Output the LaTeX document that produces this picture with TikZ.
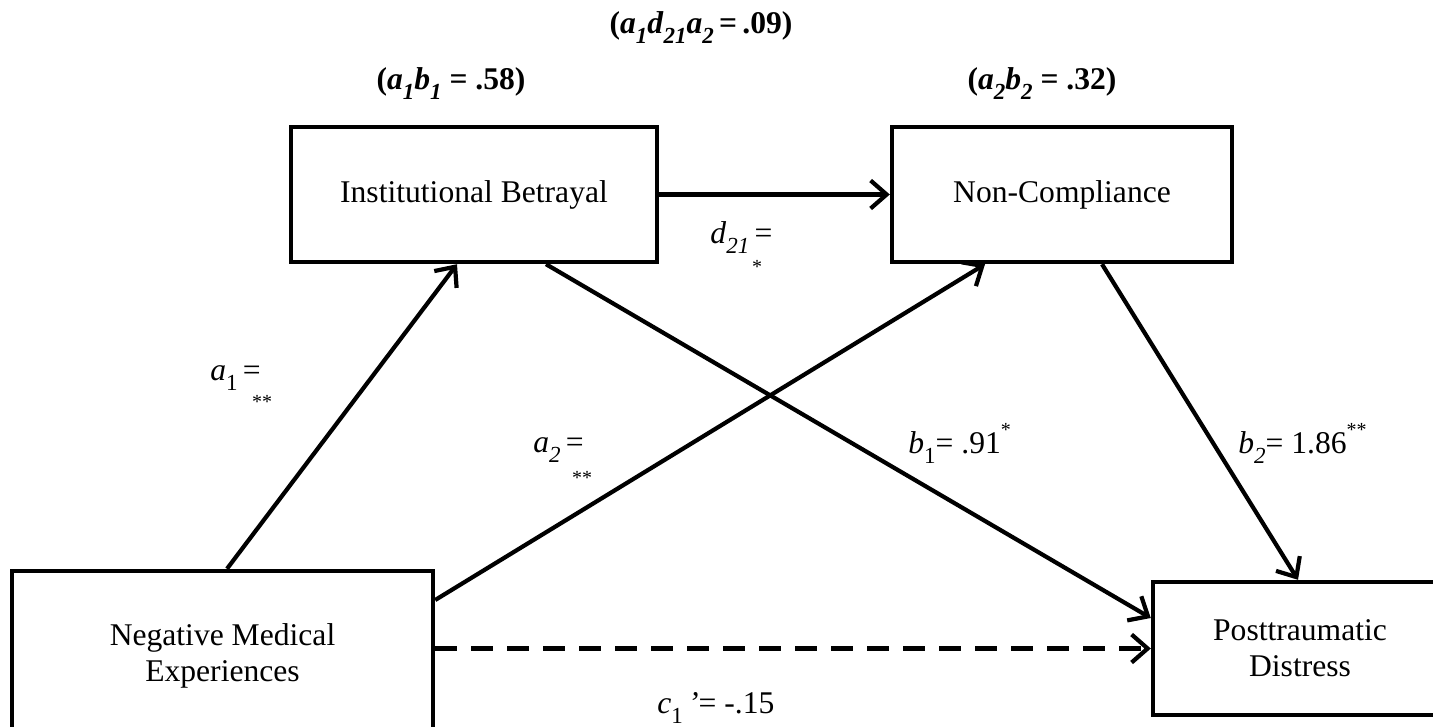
\documentclass[tikz,border=0pt]{standalone}
\usepackage{fontspec}
\setmainfont{Liberation Serif}
\usepackage{tikz}
\usetikzlibrary{
  arrows.meta, positioning, shadows
}
\tikzset{
  varbox/.style={
    draw, fill=white, line width=2.2pt,
    minimum height=67.5pt, align=center, inner sep=4pt,
    drop shadow={shadow xshift=1.2pt, shadow yshift=-1.2pt, opacity=0.18}
  },
  pathlab/.style={anchor=base west, inner sep=0pt},
  starlab/.style={inner sep=0pt, font=\fontsize{10}{12}\selectfont},
  effectlab/.style={inner sep=0pt, font=\fontsize{15.8}{18}\selectfont\bfseries},
  patharr/.style={
    -{Straight Barb[length=8pt,width=14pt,line width=2.1pt]},
    line width=2.1pt
  },
  directarr/.style={
    patharr, dashed, dash pattern=on 11pt off 7pt
  }
}
\newcommand{\sub}[1]{\raisebox{-5pt}{\fontsize{11.5}{12}\selectfont #1}}
\newcommand{\sig}[1]{\raisebox{8.5pt}{\fontsize{10}{12}\selectfont #1}}
\newcommand{\coef}[2]{\textit{#1}\sub{\textit{#2}}}

\begin{document}
\begin{tikzpicture}[
          x=0.5pt, y=-0.5pt,
          every node/.style={font=\fontsize{15.8}{18}\selectfont}
      ]
        \useasboundingbox (0,0) rectangle (1433,727);

        %% ── Top row: the two mediators ─────────────────────────────────
        \node[varbox, minimum width=183pt] (ib) at (474,194.5) {Institutional Betrayal};
        \node[varbox, minimum width=170pt] (nc) at (1062,194.5) {Non-Compliance};

        %% ── Bottom row: predictor and outcome ──────────────────────────
        \node[varbox, minimum width=210.5pt, minimum height=85pt] (nme) at (222.5,656)
          {Negative Medical\\Experiences};
        \node[varbox, minimum width=147pt, minimum height=66.5pt] (pd) at (1300,648.5)
          {Posttraumatic\\Distress};

        %% ── Indirect effects ───────────────────────────────────────────
        \node[effectlab] (ind12) at (701,28) {(\coef{a}{1}\coef{d}{21}\coef{a}{2}\,=\,.09)};
        \node[effectlab] (ind1) at (451,84) {(\coef{a}{1}\coef{b}{1} = .58)};
        \node[effectlab] (ind2) at (1042,84) {(\coef{a}{2}\coef{b}{2} = .32)};

        %% ── Paths ──────────────────────────────────────────────────────
        \draw[patharr] ([xshift=2.25pt]nme.north) -- ([xshift=-8.5pt]ib.south);
        \draw[patharr] ([yshift=28pt]nme.east) -- ([xshift=-38.5pt]nc.south);
        \draw[patharr] (ib.east) -- (nc.west);
        \draw[patharr] ([xshift=36pt]ib.south) -- ([yshift=15.25pt]pd.west);
        \draw[patharr] ([xshift=20pt]nc.south) -- ([xshift=-1pt]pd.north);
        \draw[directarr] (nme.east |- pd.west) -- (pd.west);

        %% ── Path labels ────────────────────────────────────────────────
        \node[pathlab] (a1lab) at (210,380) {\textit{a}\sub{1}\,=};
        \node[starlab] (a1star) at (262,402) {**};
        \node[pathlab] (a2lab) at (533,452) {\coef{a}{2}\,=};
        \node[starlab] (a2star) at (582,478) {**};
        \node[pathlab] (d21lab) at (710,243) {\coef{d}{21}\,=};
        \node[starlab] (d21star) at (757,267) {*};
        \node[pathlab] (b1lab) at (908,453) {\textit{b}\sub{1}= .91\sig{*}};
        \node[pathlab] (b2lab) at (1238,453) {\coef{b}{2}= 1.86\sig{**}};
        \node[pathlab] (c1lab) at (657,713) {\textit{c}\sub{1}\,\textit{’}= -.15};

      \end{tikzpicture}
\end{document}
